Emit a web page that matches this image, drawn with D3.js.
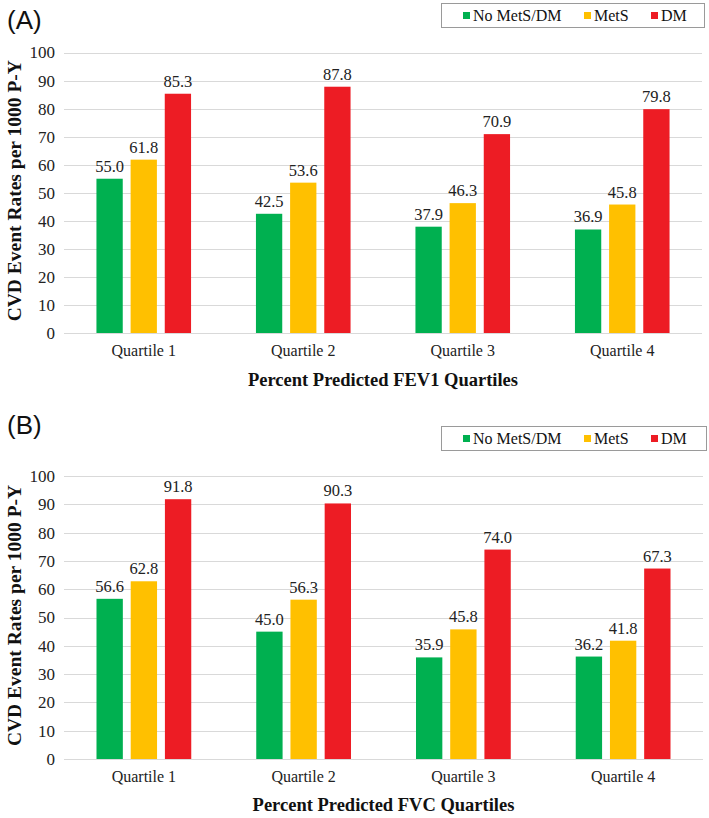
<!DOCTYPE html>
<html>
<head>
<meta charset="utf-8">
<script src="https://cdn.jsdelivr.net/npm/d3@7"></script>
<style>
  html, body { margin: 0; padding: 0; background: #fff; }
  svg { display: block; }
</style>
</head>
<body>
<svg id="chart" width="709" height="818"></svg>
<script>
const categories = ["Quartile 1", "Quartile 2", "Quartile 3", "Quartile 4"];
const seriesNames = ["No MetS/DM", "MetS", "DM"];
const seriesColors = ["#00B050", "#FFC000", "#ED1C24"];
const yTicks = [0, 10, 20, 30, 40, 50, 60, 70, 80, 90, 100];

// Panel A: Percent Predicted FEV1 Quartiles
const fev1NoMetS = [55.0, 42.5, 37.9, 36.9];
const fev1MetS   = [61.8, 53.6, 46.3, 45.8];
const fev1DM     = [85.3, 87.8, 70.9, 79.8];
// Panel B: Percent Predicted FVC Quartiles
const fvcNoMetS  = [56.6, 45.0, 35.9, 36.2];
const fvcMetS    = [62.8, 56.3, 45.8, 41.8];
const fvcDM      = [91.8, 90.3, 74.0, 67.3];

const panelLabels = ["(A)", "(B)"];
const xTitles = ["Percent Predicted FEV1 Quartiles", "Percent Predicted FVC Quartiles"];
const yTitle = "CVD Event Rates per 1000 P-Y";

const svg = d3.select("#chart");
const serif = "Liberation Serif, serif";

function drawPanel(cfg) {
  const g = svg.append("g");
  const data = [cfg.s1, cfg.s2, cfg.s3];
  const x0 = d3.scaleBand().domain(categories).range([cfg.left, cfg.right]).paddingInner(0).paddingOuter(0);
  const x1 = d3.scaleBand().domain(seriesNames).range([0, x0.bandwidth()]).paddingInner(0.23).paddingOuter(0.95);
  const y = d3.scaleLinear().domain([0, 100]).range([cfg.bottom, cfg.top]);

  // panel label
  g.append("text").attr("x", 7).attr("y", cfg.labelY)
    .attr("font-family", "Liberation Sans, Arial, sans-serif").attr("font-size", 26)
    .attr("fill", "#111").text(cfg.label);

  // gridlines
  g.append("g").selectAll("line").data(yTicks).join("line")
    .attr("x1", cfg.left).attr("x2", cfg.right)
    .attr("y1", d => Math.round(y(d)) + 0.5).attr("y2", d => Math.round(y(d)) + 0.5)
    .attr("stroke", "#d9d9d9").attr("stroke-width", 1);

  // y axis tick labels
  const yAxis = d3.axisLeft(y).tickValues(yTicks).tickSize(0).tickPadding(9);
  const ya = g.append("g").attr("transform", `translate(${cfg.left},0)`).call(yAxis);
  ya.attr("font-family", serif).attr("font-size", 17);
  ya.select(".domain").remove();
  ya.selectAll("text").attr("fill", "#222");

  // x axis labels
  const xAxis = d3.axisBottom(x0).tickSize(0).tickPadding(12);
  const xa = g.append("g").attr("transform", `translate(0,${cfg.bottom})`).call(xAxis);
  xa.attr("font-family", serif).attr("font-size", 16);
  xa.select(".domain").remove();
  xa.selectAll("text").attr("fill", "#222");

  // bars
  categories.forEach((c, ci) => {
    seriesNames.forEach((s, si) => {
      const v = data[si][ci];
      const bx = x0(c) + x1(s);
      g.append("rect").attr("x", bx).attr("y", y(v))
        .attr("width", x1.bandwidth()).attr("height", y(0) - y(v))
        .attr("fill", seriesColors[si]);
      g.append("text").attr("x", bx + x1.bandwidth() / 2).attr("y", y(v) - 7)
        .attr("text-anchor", "middle").attr("font-family", serif).attr("font-size", 16.5)
        .attr("fill", "#222").text(v.toFixed(1));
    });
  });

  // y title
  g.append("text")
    .attr("transform", `translate(${cfg.yTitleX},${(cfg.top + cfg.bottom) / 2 - 2}) rotate(-90)`)
    .attr("text-anchor", "middle").attr("font-family", serif).attr("font-weight", "bold")
    .attr("font-size", 19.5).attr("fill", "#111").text(yTitle);

  // x title
  g.append("text").attr("x", (cfg.left + cfg.right) / 2).attr("y", cfg.xTitleY)
    .attr("text-anchor", "middle").attr("font-family", serif).attr("font-weight", "bold")
    .attr("font-size", 18.5).attr("fill", "#111").text(cfg.xTitle);

  // legend
  const lg = g.append("g");
  lg.append("rect").attr("x", cfg.legX + 0.5).attr("y", cfg.legY + 0.5)
    .attr("width", cfg.legW).attr("height", 24)
    .attr("fill", "#fff").attr("stroke", "#9a9a9a").attr("stroke-width", 1);
  const legItemX = [cfg.legX + 22, cfg.legX + 143, cfg.legX + 210];
  seriesNames.forEach((s, si) => {
    lg.append("rect").attr("x", legItemX[si]).attr("y", cfg.legY + 9)
      .attr("width", 7).attr("height", 7).attr("fill", seriesColors[si]);
    lg.append("text").attr("x", legItemX[si] + 10).attr("y", cfg.legY + 18)
      .attr("font-family", serif).attr("font-size", 16).attr("fill", "#111").text(s);
  });
}

drawPanel({ label: panelLabels[0], labelY: 29, s1: fev1NoMetS, s2: fev1MetS, s3: fev1DM,
  left: 64, right: 702, top: 52.5, bottom: 333, yTitleX: 21, xTitleY: 386, xTitle: xTitles[0],
  legX: 441, legY: 3, legW: 263 });
drawPanel({ label: panelLabels[1], labelY: 434, s1: fvcNoMetS, s2: fvcMetS, s3: fvcDM,
  left: 64, right: 703, top: 476, bottom: 759, yTitleX: 21, xTitleY: 811, xTitle: xTitles[1],
  legX: 441, legY: 426, legW: 265 });
</script>
</body>
</html>
